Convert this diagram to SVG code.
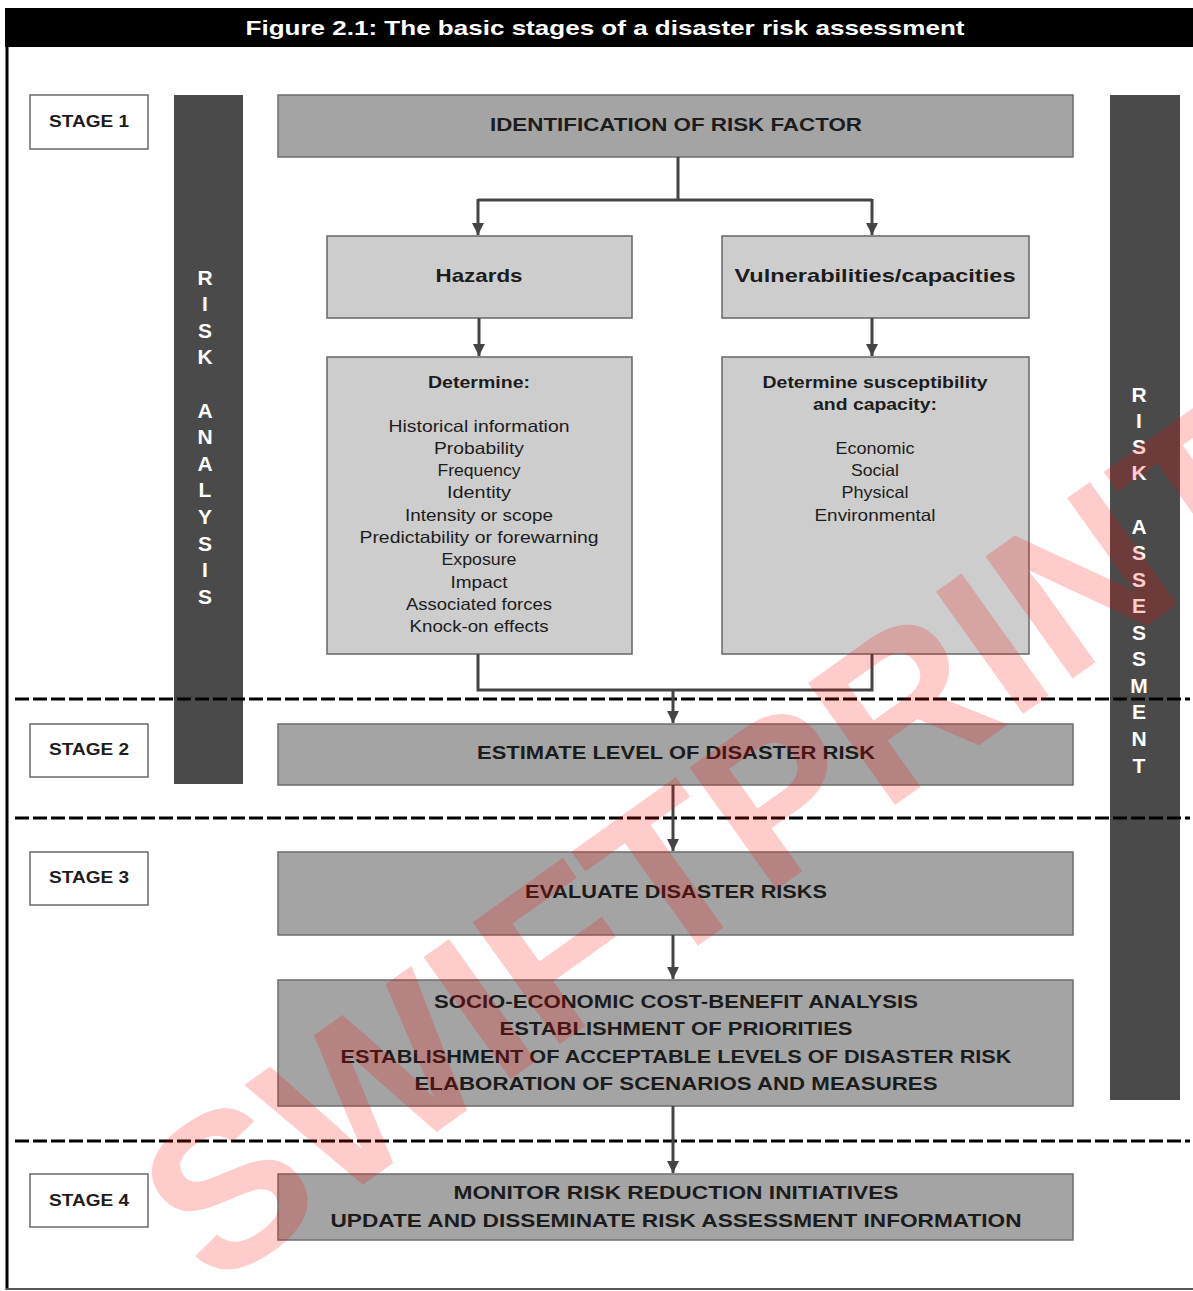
<svg xmlns="http://www.w3.org/2000/svg" width="1193" height="1291" viewBox="0 0 1193 1291">
<defs>
<style>
.t{font-family:"Liberation Sans",Arial,sans-serif;fill:#1c1c1c;text-anchor:middle}
.b{font-weight:bold}
.stage{fill:#fff;stroke:#6a6a6a;stroke-width:1.5}
.mid{fill:#a4a4a4;stroke:#6e6e6e;stroke-width:1.5}
.light{fill:#cdcdcd;stroke:#666;stroke-width:1.5}
.bar{fill:#4a4a4a}
.vl{font-family:"Liberation Sans",Arial,sans-serif;font-weight:bold;font-size:21px;fill:#fff;text-anchor:middle}
.con{fill:none;stroke:#444;stroke-width:3}
.dash{stroke:#000;stroke-width:3;stroke-dasharray:14 4}
</style>
<marker id="ah" viewBox="0 0 10 10" refX="10" refY="5" markerWidth="4" markerHeight="4" markerUnits="strokeWidth" orient="auto">
<path d="M0,0 L10,5 L0,10 z" fill="#444"/>
</marker>
</defs>
<rect width="1193" height="1291" fill="#fff"/>
<g id="frame">
<rect x="5" y="8" width="1188" height="39" fill="#000"/>
<line x1="7" y1="47" x2="7" y2="1290" stroke="#000" stroke-width="3"/>
<line x1="6" y1="1289" x2="1193" y2="1289" stroke="#555" stroke-width="2"/>
<text x="605" y="35" class="t b" style="fill:#fff;font-size:21px" textLength="719" lengthAdjust="spacingAndGlyphs">Figure 2.1: The basic stages of a disaster risk assessment</text>
</g>
<g id="risk-analysis">
<rect x="174" y="95" width="69" height="689" class="bar"/>
<text class="vl"><tspan x="205" y="285">R</tspan><tspan x="205" y="311">I</tspan><tspan x="205" y="338">S</tspan><tspan x="205" y="364">K</tspan><tspan x="205" y="418">A</tspan><tspan x="205" y="444">N</tspan><tspan x="205" y="471">A</tspan><tspan x="205" y="497">L</tspan><tspan x="205" y="524">Y</tspan><tspan x="205" y="551">S</tspan><tspan x="205" y="577">I</tspan><tspan x="205" y="604">S</tspan></text>
</g>
<g id="risk-assessment">
<rect x="1110" y="95" width="70" height="1005" class="bar"/>
<text class="vl"><tspan x="1139" y="402">R</tspan><tspan x="1139" y="428">I</tspan><tspan x="1139" y="454">S</tspan><tspan x="1139" y="480">K</tspan><tspan x="1139" y="534">A</tspan><tspan x="1139" y="560">S</tspan><tspan x="1139" y="587">S</tspan><tspan x="1139" y="613">E</tspan><tspan x="1139" y="640">S</tspan><tspan x="1139" y="666">S</tspan><tspan x="1139" y="693">M</tspan><tspan x="1139" y="719">E</tspan><tspan x="1139" y="746">N</tspan><tspan x="1139" y="773">T</tspan></text>
</g>
<g id="dividers">
<line x1="15" y1="699" x2="1190" y2="699" class="dash"/>
<line x1="15" y1="818" x2="1190" y2="818" class="dash"/>
<line x1="15" y1="1141" x2="1190" y2="1141" class="dash"/>
</g>
<g id="stage1">
<rect x="30" y="95" width="118" height="54" class="stage"/>
<text x="89" y="127" class="t b" style="font-size:16px" textLength="80" lengthAdjust="spacingAndGlyphs">STAGE 1</text>
</g>
<g id="stage2">
<rect x="30" y="724" width="118" height="53" class="stage"/>
<text x="89" y="755" class="t b" style="font-size:16px" textLength="80" lengthAdjust="spacingAndGlyphs">STAGE 2</text>
</g>
<g id="stage3">
<rect x="30" y="852" width="118" height="53" class="stage"/>
<text x="89" y="883" class="t b" style="font-size:16px" textLength="80" lengthAdjust="spacingAndGlyphs">STAGE 3</text>
</g>
<g id="stage4">
<rect x="30" y="1174" width="118" height="53" class="stage"/>
<text x="89" y="1206" class="t b" style="font-size:16px" textLength="80" lengthAdjust="spacingAndGlyphs">STAGE 4</text>
</g>
<g id="identification">
<rect x="278" y="95" width="795" height="62" class="mid"/>
<text x="676" y="131" class="t b" style="font-size:19px" textLength="372" lengthAdjust="spacingAndGlyphs">IDENTIFICATION OF RISK FACTOR</text>
</g>
<g id="hazards">
<rect x="327" y="236" width="305" height="82" class="light"/>
<text x="479" y="282" class="t b" style="font-size:19px" textLength="87" lengthAdjust="spacingAndGlyphs">Hazards</text>
</g>
<g id="vulnerabilities">
<rect x="722" y="236" width="307" height="82" class="light"/>
<text x="875" y="282" class="t b" style="font-size:19px" textLength="281" lengthAdjust="spacingAndGlyphs">Vulnerabilities/capacities</text>
</g>
<g id="determine-hazards">
<rect x="327" y="357" width="305" height="297" class="light"/>
<text x="479" y="388" class="t b" style="font-size:17px" textLength="102" lengthAdjust="spacingAndGlyphs">Determine:</text>
<g class="t" style="font-size:16.5px">
<text x="479" y="432" textLength="181" lengthAdjust="spacingAndGlyphs">Historical information</text>
<text x="479" y="454" textLength="90" lengthAdjust="spacingAndGlyphs">Probability</text>
<text x="479" y="476" textLength="83" lengthAdjust="spacingAndGlyphs">Frequency</text>
<text x="479" y="498" textLength="64" lengthAdjust="spacingAndGlyphs">Identity</text>
<text x="479" y="521" textLength="148" lengthAdjust="spacingAndGlyphs">Intensity or scope</text>
<text x="479" y="543" textLength="239" lengthAdjust="spacingAndGlyphs">Predictability or forewarning</text>
<text x="479" y="565" textLength="75" lengthAdjust="spacingAndGlyphs">Exposure</text>
<text x="479" y="588" textLength="57" lengthAdjust="spacingAndGlyphs">Impact</text>
<text x="479" y="610" textLength="146" lengthAdjust="spacingAndGlyphs">Associated forces</text>
<text x="479" y="632" textLength="139" lengthAdjust="spacingAndGlyphs">Knock-on effects</text>
</g>
</g>
<g id="determine-vulnerabilities">
<rect x="722" y="357" width="307" height="297" class="light"/>
<text x="875" y="388" class="t b" style="font-size:17px" textLength="225" lengthAdjust="spacingAndGlyphs">Determine susceptibility</text>
<text x="875" y="410" class="t b" style="font-size:17px" textLength="124" lengthAdjust="spacingAndGlyphs">and capacity:</text>
<g class="t" style="font-size:16.5px">
<text x="875" y="454" textLength="79" lengthAdjust="spacingAndGlyphs">Economic</text>
<text x="875" y="476" textLength="48" lengthAdjust="spacingAndGlyphs">Social</text>
<text x="875" y="498" textLength="67" lengthAdjust="spacingAndGlyphs">Physical</text>
<text x="875" y="521" textLength="121" lengthAdjust="spacingAndGlyphs">Environmental</text>
</g>
</g>
<g id="estimate">
<rect x="278" y="724" width="795" height="61" class="mid"/>
<text x="676" y="759" class="t b" style="font-size:19px" textLength="398" lengthAdjust="spacingAndGlyphs">ESTIMATE LEVEL OF DISASTER RISK</text>
</g>
<g id="evaluate">
<rect x="278" y="852" width="795" height="83" class="mid"/>
<text x="676" y="898" class="t b" style="font-size:19px" textLength="302" lengthAdjust="spacingAndGlyphs">EVALUATE DISASTER RISKS</text>
</g>
<g id="analysis">
<rect x="278" y="980" width="795" height="126" class="mid"/>
<g class="t b" style="font-size:19px">
<text x="676" y="1008" textLength="484" lengthAdjust="spacingAndGlyphs">SOCIO-ECONOMIC COST-BENEFIT ANALYSIS</text>
<text x="676" y="1035" textLength="353" lengthAdjust="spacingAndGlyphs">ESTABLISHMENT OF PRIORITIES</text>
<text x="676" y="1063" textLength="671" lengthAdjust="spacingAndGlyphs">ESTABLISHMENT OF ACCEPTABLE LEVELS OF DISASTER RISK</text>
<text x="676" y="1090" textLength="523" lengthAdjust="spacingAndGlyphs">ELABORATION OF SCENARIOS AND MEASURES</text>
</g>
</g>
<g id="monitor">
<rect x="278" y="1174" width="795" height="66" class="mid"/>
<g class="t b" style="font-size:19px">
<text x="676" y="1199" textLength="445" lengthAdjust="spacingAndGlyphs">MONITOR RISK REDUCTION INITIATIVES</text>
<text x="676" y="1227" textLength="691" lengthAdjust="spacingAndGlyphs">UPDATE AND DISSEMINATE RISK ASSESSMENT INFORMATION</text>
</g>
</g>
<g id="connectors">
<path d="M678,157 V200 M478,200 H872" class="con"/>
<path d="M478,199 V235" class="con" marker-end="url(#ah)"/>
<path d="M872,199 V235" class="con" marker-end="url(#ah)"/>
<path d="M479,318 V356" class="con" marker-end="url(#ah)"/>
<path d="M872,318 V356" class="con" marker-end="url(#ah)"/>
<path d="M478,654 V690 H872 V654" class="con"/>
<path d="M673,690 V723" class="con" marker-end="url(#ah)"/>
<path d="M673,785 V851" class="con" marker-end="url(#ah)"/>
<path d="M673,935 V979" class="con" marker-end="url(#ah)"/>
<path d="M673,1106 V1173" class="con" marker-end="url(#ah)"/>
</g>
<text x="755" y="905" transform="rotate(-35.5 755 905)" style="font-family:'Liberation Sans',Arial,sans-serif;font-weight:bold;font-size:218px;fill:#ff0000;fill-opacity:0.2;text-anchor:middle">SWIFTPRINT</text>
</svg>
